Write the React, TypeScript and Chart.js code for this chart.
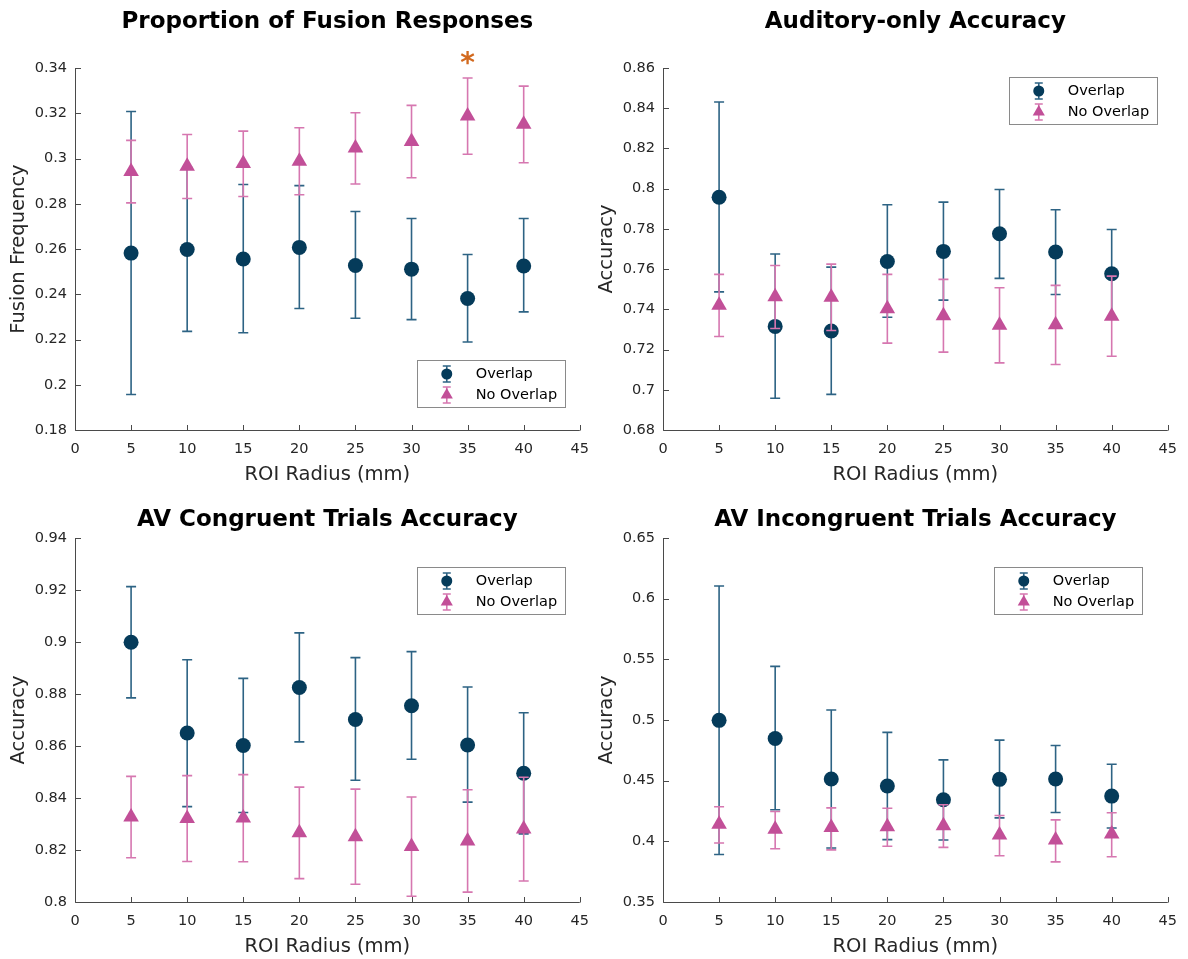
import React, { useEffect, useRef } from 'react';
import { Chart, registerables } from 'chart.js';

Chart.register(...registerables);

// ---------- data ----------
const radii = [5, 10, 15, 20, 25, 30, 35, 40];
const xTicks = [0, 5, 10, 15, 20, 25, 30, 35, 40, 45];
const xTitle = 'ROI Radius (mm)';
const seriesNames = ['Overlap', 'No Overlap'];

// Proportion of Fusion Responses
const fusionOverlap = [0.2582, 0.2598, 0.2556, 0.2607, 0.2527, 0.2511, 0.2381, 0.2525];
const fusionOverlapLo = [0.1957, 0.2236, 0.223, 0.2337, 0.2294, 0.2288, 0.2189, 0.2322];
const fusionOverlapHi = [0.3208, 0.2962, 0.2885, 0.288, 0.2766, 0.2735, 0.2576, 0.2735];
const fusionNoOverlap = [0.2943, 0.2966, 0.2978, 0.2988, 0.3046, 0.3075, 0.3188, 0.3151];
const fusionNoOverlapLo = [0.2804, 0.2823, 0.2832, 0.284, 0.2887, 0.2915, 0.3019, 0.2981];
const fusionNoOverlapHi = [0.308, 0.3106, 0.3121, 0.3136, 0.3202, 0.3235, 0.3356, 0.332];
const fusionTicks = [0.18, 0.2, 0.22, 0.24, 0.26, 0.28, 0.3, 0.32, 0.34];
const fusionSignificant = [35];

// Auditory-only Accuracy
const audOverlap = [0.7957, 0.7315, 0.7292, 0.7638, 0.7688, 0.7776, 0.7685, 0.7577];
const audOverlapLo = [0.7487, 0.6958, 0.6977, 0.7361, 0.7446, 0.7554, 0.7474, 0.7357];
const audOverlapHi = [0.8431, 0.7675, 0.761, 0.792, 0.7933, 0.7996, 0.7895, 0.7797];
const audNoOverlap = [0.742, 0.7462, 0.746, 0.7403, 0.7368, 0.7321, 0.7323, 0.7366];
const audNoOverlapLo = [0.7265, 0.7305, 0.7295, 0.7232, 0.7187, 0.7134, 0.7126, 0.7167];
const audNoOverlapHi = [0.7574, 0.7618, 0.7625, 0.7574, 0.7549, 0.7507, 0.7519, 0.7565];
const audTicks = [0.68, 0.7, 0.72, 0.74, 0.76, 0.78, 0.8, 0.82, 0.84, 0.86];

// AV Congruent Trials Accuracy
const congOverlap = [0.8999, 0.865, 0.8602, 0.8825, 0.8702, 0.8755, 0.8604, 0.8495];
const congOverlapLo = [0.8785, 0.8367, 0.8344, 0.8616, 0.8468, 0.8549, 0.8384, 0.8262];
const congOverlapHi = [0.9213, 0.8932, 0.886, 0.9035, 0.894, 0.8963, 0.8827, 0.8728];
const congNoOverlap = [0.8327, 0.8321, 0.8323, 0.8266, 0.8251, 0.8213, 0.8235, 0.8281];
const congNoOverlapLo = [0.817, 0.8156, 0.8155, 0.809, 0.8068, 0.8022, 0.8038, 0.8081];
const congNoOverlapHi = [0.8483, 0.8486, 0.849, 0.8442, 0.8434, 0.8404, 0.8432, 0.848];
const congTicks = [0.8, 0.82, 0.84, 0.86, 0.88, 0.9, 0.92, 0.94];

// AV Incongruent Trials Accuracy
const incOverlap = [0.4997, 0.4848, 0.4514, 0.4456, 0.4343, 0.4511, 0.4514, 0.4373];
const incOverlapLo = [0.3892, 0.426, 0.3945, 0.4014, 0.4011, 0.4193, 0.4238, 0.411];
const incOverlapHi = [0.6105, 0.5442, 0.5083, 0.4898, 0.4671, 0.4834, 0.479, 0.4635];
const incNoOverlap = [0.414, 0.41, 0.4115, 0.412, 0.4128, 0.4053, 0.4012, 0.406];
const incNoOverlapLo = [0.3986, 0.3939, 0.393, 0.3959, 0.395, 0.3881, 0.3831, 0.3873];
const incNoOverlapHi = [0.4285, 0.4246, 0.4276, 0.4273, 0.4301, 0.4213, 0.4177, 0.4235];
const incTicks = [0.35, 0.4, 0.45, 0.5, 0.55, 0.6, 0.65];

// ---------- styles ----------
const FONT = '"DejaVu Sans", "Liberation Sans", Arial, sans-serif';
const OVERLAP_MARKER = '#053b5a';
const OVERLAP_BAR = '#2d6384';
const NO_MARKER = '#c24f98';
const NO_BAR = '#d677b0';
const AXIS_COLOR = '#4a4a4a';
const TEXT_COLOR = '#262626';
const STAR_COLOR = '#d2691e';

type PanelCfg = {
  title: string;
  yTitle: string;
  yTicks: number[];
  overlap: number[];
  overlapLo: number[];
  overlapHi: number[];
  noOverlap: number[];
  noOverlapLo: number[];
  noOverlapHi: number[];
  stars: number[];
  left: number;
  top: number;
  w: number;
  h: number;
  padTop: number;
  padRight: number;
  titleY: number;
  legend: { rightOff: number; topOff?: number; bottomOff?: number };
};

const panels: PanelCfg[] = [
  {
    title: 'Proportion of Fusion Responses', yTitle: 'Fusion Frequency', yTicks: fusionTicks,
    overlap: fusionOverlap, overlapLo: fusionOverlapLo, overlapHi: fusionOverlapHi,
    noOverlap: fusionNoOverlap, noOverlapLo: fusionNoOverlapLo, noOverlapHi: fusionNoOverlapHi,
    stars: fusionSignificant,
    left: 0, top: 0, w: 600, h: 487, padTop: 68, padRight: 14, titleY: 22,
    legend: { rightOff: 15, bottomOff: 23 },
  },
  {
    title: 'Auditory-only Accuracy', yTitle: 'Accuracy', yTicks: audTicks,
    overlap: audOverlap, overlapLo: audOverlapLo, overlapHi: audOverlapHi,
    noOverlap: audNoOverlap, noOverlapLo: audNoOverlapLo, noOverlapHi: audNoOverlapHi,
    stars: [],
    left: 588, top: 0, w: 600, h: 487, padTop: 68, padRight: 15, titleY: 22,
    legend: { rightOff: 11, topOff: 9 },
  },
  {
    title: 'AV Congruent Trials Accuracy', yTitle: 'Accuracy', yTicks: congTicks,
    overlap: congOverlap, overlapLo: congOverlapLo, overlapHi: congOverlapHi,
    noOverlap: congNoOverlap, noOverlapLo: congNoOverlapLo, noOverlapHi: congNoOverlapHi,
    stars: [],
    left: 0, top: 480, w: 600, h: 479, padTop: 58, padRight: 14, titleY: 40,
    legend: { rightOff: 15, topOff: 29 },
  },
  {
    title: 'AV Incongruent Trials Accuracy', yTitle: 'Accuracy', yTicks: incTicks,
    overlap: incOverlap, overlapLo: incOverlapLo, overlapHi: incOverlapHi,
    noOverlap: incNoOverlap, noOverlapLo: incNoOverlapLo, noOverlapHi: incNoOverlapHi,
    stars: [],
    left: 588, top: 480, w: 600, h: 479, padTop: 58, padRight: 15, titleY: 40,
    legend: { rightOff: 26, topOff: 29 },
  },
];

function drawTriangle(ctx: CanvasRenderingContext2D, x: number, y: number, r: number) {
  ctx.beginPath();
  ctx.moveTo(x, y - r);
  ctx.lineTo(x + r * 0.866, y + r * 0.5);
  ctx.lineTo(x - r * 0.866, y + r * 0.5);
  ctx.closePath();
  ctx.fill();
}

function makePlugin(p: PanelCfg) {
  return {
    id: 'matlabDecor',
    beforeDatasetDraw(chart: any, args: any) {
      const ds = chart.data.datasets[args.index];
      const ys = chart.scales.y;
      const ctx: CanvasRenderingContext2D = chart.ctx;
      ctx.save();
      ctx.strokeStyle = ds.errColor;
      ctx.lineWidth = 1.6;
      args.meta.data.forEach((pt: any, i: number) => {
        const x = pt.x;
        const yl = ys.getPixelForValue(ds.errLo[i]);
        const yh = ys.getPixelForValue(ds.errHi[i]);
        ctx.beginPath();
        ctx.moveTo(x, yl);
        ctx.lineTo(x, yh);
        ctx.moveTo(x - 5, yl);
        ctx.lineTo(x + 5, yl);
        ctx.moveTo(x - 5, yh);
        ctx.lineTo(x + 5, yh);
        ctx.stroke();
      });
      ctx.restore();
    },
    afterDraw(chart: any) {
      const ctx: CanvasRenderingContext2D = chart.ctx;
      const { left, right, top, bottom } = chart.chartArea;
      const xs = chart.scales.x;
      const ys = chart.scales.y;
      ctx.save();
      // axes lines
      ctx.strokeStyle = AXIS_COLOR;
      ctx.lineWidth = 1;
      ctx.beginPath();
      ctx.moveTo(left + 0.5, top);
      ctx.lineTo(left + 0.5, bottom + 0.5);
      ctx.lineTo(right, bottom + 0.5);
      ctx.stroke();
      // inward ticks
      ctx.beginPath();
      xTicks.forEach((v) => {
        const px = Math.round(xs.getPixelForValue(v)) + 0.5;
        ctx.moveTo(px, bottom + 0.5);
        ctx.lineTo(px, bottom - 5);
      });
      p.yTicks.forEach((v) => {
        const py = Math.round(ys.getPixelForValue(v)) + 0.5;
        ctx.moveTo(left + 0.5, py);
        ctx.lineTo(left + 6, py);
      });
      ctx.stroke();

      // title
      ctx.fillStyle = '#000';
      ctx.font = `bold 23px ${FONT}`;
      ctx.textAlign = 'center';
      ctx.textBaseline = 'middle';
      ctx.fillText(p.title, (left + right) / 2, p.titleY);

      // significance stars
      ctx.fillStyle = STAR_COLOR;
      ctx.font = `bold 28px ${FONT}`;
      p.stars.forEach((v) => {
        ctx.fillText('*', xs.getPixelForValue(v), top - 3);
      });

      // legend
      const bw = 148;
      const bh = 47;
      const bx = right - p.legend.rightOff - bw;
      const by = p.legend.topOff !== undefined ? top + p.legend.topOff : bottom - p.legend.bottomOff! - bh;
      ctx.fillStyle = '#fff';
      ctx.fillRect(bx, by, bw, bh);
      ctx.strokeStyle = '#8a8a8a';
      ctx.lineWidth = 1;
      ctx.strokeRect(Math.round(bx) + 0.5, Math.round(by) + 0.5, bw, bh);
      const rows = [by + 14, by + 35];
      const gx = bx + 30;
      const cols = [
        [OVERLAP_BAR, OVERLAP_MARKER],
        [NO_BAR, NO_MARKER],
      ];
      rows.forEach((ry, k) => {
        ctx.strokeStyle = cols[k][0];
        ctx.lineWidth = 1.6;
        ctx.beginPath();
        ctx.moveTo(gx, ry - 8);
        ctx.lineTo(gx, ry + 8);
        ctx.moveTo(gx - 4, ry - 8);
        ctx.lineTo(gx + 4, ry - 8);
        ctx.moveTo(gx - 4, ry + 8);
        ctx.lineTo(gx + 4, ry + 8);
        ctx.stroke();
        ctx.fillStyle = cols[k][1];
        if (k === 0) {
          ctx.beginPath();
          ctx.arc(gx, ry, 5.5, 0, Math.PI * 2);
          ctx.fill();
        } else {
          drawTriangle(ctx, gx, ry, 7);
        }
        ctx.fillStyle = '#000';
        ctx.font = `14.5px ${FONT}`;
        ctx.textAlign = 'left';
        ctx.textBaseline = 'middle';
        ctx.fillText(seriesNames[k], bx + 59, ry);
      });
      ctx.restore();
    },
  };
}

function ChartPanel({ p }: { p: PanelCfg }) {
  const ref = useRef<HTMLCanvasElement>(null);
  useEffect(() => {
    const yMin = p.yTicks[0];
    const yMax = p.yTicks[p.yTicks.length - 1];
    const chart = new Chart(ref.current!, {
      type: 'scatter',
      data: {
        datasets: [
          {
            label: seriesNames[0],
            data: radii.map((x, i) => ({ x, y: p.overlap[i] })),
            pointStyle: 'circle',
            pointRadius: 7.5,
            pointBackgroundColor: OVERLAP_MARKER,
            pointBorderColor: OVERLAP_MARKER,
            pointBorderWidth: 0,
            showLine: false,
            order: 1,
            errLo: p.overlapLo,
            errHi: p.overlapHi,
            errColor: OVERLAP_BAR,
          } as any,
          {
            label: seriesNames[1],
            data: radii.map((x, i) => ({ x, y: p.noOverlap[i] })),
            pointStyle: 'triangle',
            pointRadius: 9,
            pointBackgroundColor: NO_MARKER,
            pointBorderColor: NO_MARKER,
            pointBorderWidth: 0,
            showLine: false,
            order: 0,
            errLo: p.noOverlapLo,
            errHi: p.noOverlapHi,
            errColor: NO_BAR,
          } as any,
        ],
      },
      options: {
        animation: false,
        responsive: false,
        devicePixelRatio: 1,
        layout: { padding: { top: p.padTop, right: p.padRight, left: 0, bottom: 0 } },
        plugins: {
          legend: { display: false },
          tooltip: { enabled: false },
          title: { display: false },
        },
        scales: {
          x: {
            type: 'linear',
            position: 'bottom',
            min: 0,
            max: 45,
            afterBuildTicks: (s: any) => {
              s.ticks = xTicks.map((v) => ({ value: v }));
            },
            afterFit: (s: any) => {
              s.height = 57;
            },
            grid: { display: false, drawTicks: false },
            border: { display: false },
            ticks: {
              padding: 11,
              color: TEXT_COLOR,
              font: { family: FONT, size: 14.5 },
              maxRotation: 0,
              autoSkip: false,
              callback: (v: any) => String(v),
            },
            title: {
              display: true,
              text: xTitle,
              color: TEXT_COLOR,
              font: { family: FONT, size: 19.5 },
              padding: { top: 0, bottom: 0 },
            },
          },
          y: {
            type: 'linear',
            position: 'left',
            min: yMin,
            max: yMax,
            afterBuildTicks: (s: any) => {
              s.ticks = p.yTicks.map((v) => ({ value: v }));
            },
            afterFit: (s: any) => {
              s.width = 75;
            },
            grid: { display: false, drawTicks: false },
            border: { display: false },
            ticks: {
              padding: 8,
              color: TEXT_COLOR,
              font: { family: FONT, size: 14.5 },
              autoSkip: false,
              callback: (v: any) => String(Number(Number(v).toFixed(2))),
            },
            title: {
              display: true,
              text: p.yTitle,
              color: TEXT_COLOR,
              font: { family: FONT, size: 19.5 },
              padding: { top: 7, bottom: 0 },
            },
          },
        },
      } as any,
      plugins: [makePlugin(p)],
    });
    return () => chart.destroy();
  }, [p]);
  return (
    <canvas
      ref={ref}
      width={p.w}
      height={p.h}
      style={{ position: 'absolute', left: p.left, top: p.top, width: p.w, height: p.h }}
    />
  );
}

export default function App() {
  return (
    <div style={{ position: 'absolute', left: 0, top: 0, width: 1188, height: 959, background: '#fff' }}>
      {panels.map((p, i) => (
        <ChartPanel key={i} p={p} />
      ))}
    </div>
  );
}
